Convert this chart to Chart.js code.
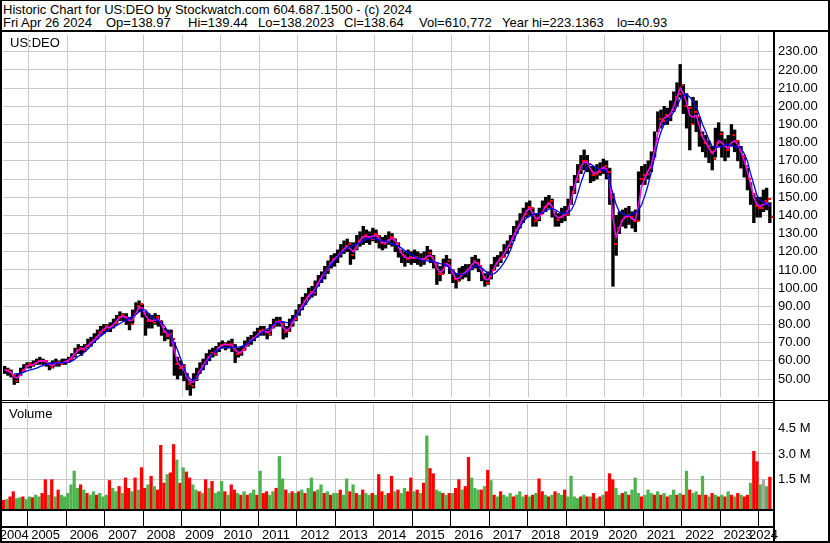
<!DOCTYPE html>
<html><head><meta charset="utf-8">
<script src="https://cdn.jsdelivr.net/npm/chart.js@4.4.1/dist/chart.umd.min.js"></script>
<style>
html,body{margin:0;padding:0;background:#fff;}
#wrap{position:relative;width:830px;height:543px;overflow:hidden;background:#fff;font-family:"Liberation Sans",Arial,sans-serif;color:#000;}
.ln{position:absolute;background:#000;}
.txt{position:absolute;font-size:13px;line-height:13px;white-space:pre;color:#000;}
.cv{position:absolute;left:0;}
</style></head><body>
<div id="wrap">
  <canvas id="price" class="cv" width="830" height="368" style="top:32px"></canvas>
  <canvas id="vol" class="cv" width="830" height="138" style="top:403px"></canvas>
  <div class="txt" style="left:3px;top:3px">Historic Chart for US:DEO by Stockwatch.com 604.687.1500 - (c) 2024</div>
  <div class="txt" style="left:3px;top:16px">Fri Apr 26 2024</div>
  <div class="txt" style="left:106px;top:16px">Op=138.97</div>
  <div class="txt" style="left:188px;top:16px">Hi=139.44</div>
  <div class="txt" style="left:258px;top:16px">Lo=138.2023</div>
  <div class="txt" style="left:344px;top:16px">Cl=138.64</div>
  <div class="txt" style="left:419px;top:16px">Vol=610,772</div>
  <div class="txt" style="left:502px;top:16px">Year hi=223.1363</div>
  <div class="txt" style="left:617px;top:16px">lo=40.93</div>
  <div class="txt" style="left:10px;top:36px">US:DEO</div>
  <div class="txt" style="left:9px;top:407px">Volume</div>
  <div class="ln" style="left:0;top:0;width:830px;height:1px"></div>
  <div class="ln" style="left:0;top:0;width:2px;height:543px"></div>
  <div class="ln" style="left:828px;top:0;width:2px;height:543px"></div>
  <div class="ln" style="left:0;top:541px;width:830px;height:2px"></div>
  <div class="ln" style="left:0;top:30px;width:830px;height:2px"></div>
  <div class="ln" style="left:773px;top:30px;width:2px;height:513px"></div>
  <div class="ln" style="left:0;top:400px;width:830px;height:1px"></div>
  <div class="ln" style="left:0;top:402px;width:775px;height:1px"></div>
  <div class="ln" style="left:0;top:509px;width:775px;height:2px"></div>
  <div class="ln" style="left:0;top:526px;width:775px;height:2px"></div>
</div>
<script>
// ---------- DATA (monthly, May 2004 .. Apr 2024) ----------
const firstYear = 2004, firstMonth = 5, monthCount = 240;

const lows = [
  53,52,51,47,48,52,54,56,
  56,57,58,58,58,57,55,56,57,57,58,58,
  59,60,62,64,63,65,67,68,70,72,74,75,
  76,76,78,80,82,82,80,77,81,86,87,84,
  74,78,78,80,79,74,71,72,68,52,50,52,
  49,44,41,45,49,53,55,58,60,62,63,65,
  67,66,67,65,59,62,63,66,68,69,71,73,
  74,74,72,74,78,79,79,72,73,76,79,82,
  85,88,91,94,95,96,101,103,105,108,111,112,
  114,117,119,120,113,116,121,123,124,125,124,126,
  125,122,121,122,124,123,120,117,114,112,114,113,
  114,113,112,113,116,114,111,102,104,108,112,108,
  103,100,104,105,106,104,110,111,109,104,101,102,
  105,110,112,114,117,119,122,126,130,133,136,139,
  140,134,134,137,141,142,144,139,134,134,136,137,
  140,146,152,158,163,165,164,158,159,160,162,163,
  160,146,101,118,130,134,133,135,133,131,137,157,
  157,160,164,172,186,188,190,190,192,197,200,205,
  196,188,176,190,186,178,175,172,169,165,172,178,
  172,170,172,178,175,170,166,161,154,146,136,139,
  139,142,143,136
];
const highs = [
  57,56,55,52,53,56,58,59,
  59,60,61,62,61,60,59,60,61,60,61,61,
  62,64,67,69,68,69,72,73,75,77,79,80,
  80,81,83,85,87,86,86,84,88,92,93,91,
  87,86,85,86,85,82,78,77,77,70,62,60,
  58,53,49,53,56,59,61,64,66,67,68,70,
  71,70,71,72,69,67,68,71,73,74,76,78,
  79,79,77,80,83,84,84,81,79,83,85,88,
  91,95,97,100,101,104,107,109,112,115,118,119,
  121,124,126,127,125,125,129,131,134,132,131,133,
  132,129,128,129,131,130,127,125,121,120,121,120,
  121,120,119,120,123,121,118,114,112,116,118,116,
  110,108,111,112,113,113,117,118,116,111,108,109,
  113,117,118,120,124,126,129,134,137,141,144,147,
  148,144,141,144,148,150,151,149,142,141,144,145,
  149,156,162,168,173,176,173,167,167,168,169,171,
  170,166,152,140,142,143,144,145,142,143,164,167,
  168,170,175,186,197,198,200,199,203,208,213,223,
  212,207,200,205,203,194,186,184,181,178,188,191,
  186,182,184,190,187,181,178,173,166,158,152,150,
  150,154,155,147
];
const closes = [
  55,54,52,49,52,55,57,58,
  57.5,59,60,60,60,58,56.5,59,59.5,58.5,59.5,60,
  61,63,66,67,66,68,70,71,73,76,77,79,
  78,79,81,84,85,84,83,80,86,90,91,86,
  82,82,81,84,82,76,73.5,74.5,72,58,56,57,
  52,47,46,50,54,57,59,62,64.5,64,67,68.5,
  69,68.5,69.5,67,64,64.5,66,69,71,72.5,73,76.5,
  77,76,74.5,79,81.5,82,80,76,76.5,81,83,87,
  89,93,95,98,97.5,102,105,107,110,113,116,117,
  119,121,123,124,118,122,126,128,129,128,127,130,
  128.5,125,124,126,128,127,124,120,117.5,116,117,116.5,
  117,116,115.5,116,119.5,117,113,108,108,113,115,110,
  105,104,108,108.5,110,111,115,114,112,106,103,106,
  110,114,116,117,121,123,127,132,134,138,141,144.5,
  144,137,138,141,144.5,146,148,142,137.5,139,140,141,
  146,153,160,165,170,170,168,162,163,164,166,167,
  164,150,124,133,137,139,140,139,137,137,160,162,
  163,166,171,182,193,192,195,194,198,205,207,212,
  200,199,190,197,194,184,180,178,175,171,180,185,
  178,176,178,184,181,176,172,167,160,152,145,144,
  144,148,149,139
];
const ma50 = [
  55,54.5,53.5,51,50.5,52.5,55,57,
  57.5,58,59,59.8,60,59.5,58,57.5,58.5,59,59,59.5,
  60.5,62,64,66,66.5,67,68.5,70,71.5,73.5,75.5,77.5,
  78.5,78.5,80,82,84,84.5,84,82,82.5,86,89.5,89,
  85,82.5,82,82.5,83,80,76,74.5,73.5,66,59,57,
  55,51,48,48.5,51,54.5,57.5,60,62.5,64,65.5,67.5,
  68.5,69,69,68.5,66,64.5,65,67,69.5,71.5,72.5,74.5,
  76,76.5,75.5,76.5,79,81.5,81.5,78.5,76.5,78,81,84.5,
  87.5,90.5,93.5,96,97.5,99.5,103,106,108.5,111,114,116,
  117.5,119.5,121.5,123,121.5,120,123,126.5,128,128.5,128,128.5,
  129,127,125,125,126.5,127.5,126,122.5,119,117,116.5,116.5,
  117,116.5,116,116,117.5,118,115.5,111,108.5,110,113.5,112.5,
  108,105,105.5,107.5,109,110.5,113,114.5,113,109.5,105,104.5,
  107.5,111.5,114.5,116.5,119,122,125,129,132.5,135.5,139,142.5,
  144,141,138,139,142,145,147,145,140,138.5,139.5,140.5,
  143,149,156,162,167,169.5,169,165.5,163,163.5,165,166.5,
  165.5,158,138,128,133,137.5,139.5,139.5,138,137.5,146,156,
  161,164.5,168,176,185,191,193.5,194.5,196,200,205,210,
  207,202,195,194,195,189,183,180,177,174,176,181,
  180,178,177,180,181,179,175,170,164,157,150,146,
  145,146,147,145
];
const ma200 = [
  null,null,null,53,52.7,53,53.8,54.5,
  55,55.5,56,56.8,57.3,58,58.5,58.7,58.8,58.9,59,59,
  59.2,60,61,62.5,63.5,65,66.5,68.5,70.5,72,73.5,75,
  76.5,77.5,78.5,79.5,80.5,81.5,82.5,83.5,84.5,85.5,87,88,
  88,86,84,83,82,81,79,76,73,70,66,61,
  56,52,50,49.3,50.5,53.5,56,59,61.5,64,65.5,66.5,
  67.3,67.3,67.3,67.5,67.5,67.5,68,68.5,69.5,71,72,73.5,
  75,76.5,77.5,78.5,80,81,81.5,81.5,81,81,82.5,85,
  87,89,91,93.5,96,99,101.5,104.5,108,111,113,115,
  117,119,120.5,122,123,123.5,124,125,126,127,127.5,127.5,
  127,126.5,126,125.8,125.3,124.5,123.8,123,122,120.5,119.5,118.5,
  117.5,116.5,115.5,115,115,114.8,114.5,114,113.5,113.2,112.5,111,
  109.5,108,107.5,107.5,108,109.5,111,112.2,112,111,109.5,108,
  107.7,108,109.5,111.5,114,117,121,126,130,133.5,136.5,138.5,
  139.5,140.5,141,141,141.5,142.5,143.5,143.8,143,142,141,141,
  141.5,143,146.5,152,158,163,167,168.3,167,166,165.5,165,
  164.6,158,152,146,142,141,140,140,141,141.5,143,146,
  151,157,164,172,180,186,190,192,194,197,200,204,
  206,206.5,205,203,200,195,190,186,181.5,178,177.5,177.5,
  178,178.5,179,178.5,178,177.5,177,174,170,163,157,151,
  148.5,147,146,145.5
];
// volume in millions of shares
const volume = [
  0.3,0.35,0.5,0.8,0.4,0.45,0.5,0.35,
  0.5,0.45,0.6,0.5,0.7,1.5,0.6,1.5,0.5,0.9,0.6,0.5,
  0.7,1.2,2.0,1.0,1.2,0.9,0.7,0.6,0.8,0.6,0.7,0.5,
  0.6,1.45,1.0,0.8,1.1,0.7,1.6,1.0,0.8,1.6,0.9,2.2,
  1.0,1.2,1.7,1.1,0.9,3.5,1.3,1.8,1.9,3.55,2.65,1.3,
  2.2,1.95,1.6,1.2,0.9,0.8,0.7,1.5,1.0,1.4,0.7,0.8,
  1.4,0.8,0.6,1.2,0.9,0.7,0.6,0.8,0.6,0.7,0.9,0.6,
  2.0,0.7,0.8,0.6,0.8,1.0,2.85,1.55,0.9,0.7,0.8,0.7,
  0.8,0.9,0.7,1.0,1.6,0.8,0.9,1.2,0.7,0.8,0.6,0.7,
  0.7,0.9,0.6,1.55,0.8,1.2,0.7,0.6,0.9,0.7,0.6,0.7,
  0.6,1.8,0.8,0.6,0.7,1.7,0.8,0.9,0.7,1.0,0.8,1.6,
  0.8,0.9,0.7,1.3,4.05,2.15,1.85,0.9,0.8,0.7,0.6,0.7,
  0.7,1.0,1.5,0.9,1.1,2.8,1.6,1.0,0.9,0.9,1.1,2.05,
  1.45,0.6,0.5,0.8,0.6,0.5,0.7,0.5,0.6,0.8,0.5,0.6,
  0.5,0.6,0.7,1.55,0.8,0.6,0.5,0.6,0.8,0.7,0.6,0.9,
  0.5,1.7,0.5,0.4,0.5,0.6,0.5,0.5,0.7,0.4,0.5,0.6,
  0.8,1.85,1.5,1.0,0.6,0.7,0.8,0.6,0.9,1.6,0.7,0.5,
  0.6,0.9,0.7,0.6,0.8,0.6,0.7,0.5,0.6,0.9,0.6,0.7,
  0.6,2.0,0.9,0.7,0.8,0.6,1.7,0.6,0.5,0.7,0.6,0.5,
  0.6,0.5,0.8,0.6,0.5,0.7,0.6,0.5,0.6,1.3,3.15,2.55,
  1.2,1.5,1.1,1.65
];
// volume bar direction: g = up, r = down, n = unchanged
const volDir = [
  "rgrrggrg",
  "grggrrgrgrgg","ggggrgrggrgg","grggrgrrgrgr","rgrgrrrgrrgr","grrggrgrgrgg",
  "grgrrgrgrggr","grrggrggrgrg","rgrggrggrgrg","grggrgrgrggr","grrgrrgrggrr",
  "grgrgrrggrgr","grrgrrgggrgr","grgrgggrgggr","grgrrgrgrggr","ggggrgrgrgrg",
  "rrrggrgrgggr","gggrgrgrggrg","rgrggrgrgrgr","grgrgrgrrgrr",
  "gngr"
].join("");

const years = [2004,2005,2006,2007,2008,2009,2010,2011,2012,2013,2014,2015,2016,2017,2018,2019,2020,2021,2022,2023,2024];
const priceTicks = [50,60,70,80,90,100,110,120,130,140,150,160,170,180,190,200,210,220,230];
const volumeTicks = [1.5,3.0,4.5];

// ---------- build ----------
const FONT = '"Liberation Sans", Arial, sans-serif';
Chart.defaults.font.family = FONT;
Chart.defaults.font.size = 13;
Chart.defaults.color = '#000';

const X_MIN = 2004.332, X_MAX = 2024.374;
const monthX = [];
for (let i = 0; i < monthCount; i++) {
  const m = firstMonth - 1 + i;
  monthX.push(firstYear + Math.floor(m / 12) + ((m % 12) + 0.5) / 12);
}
const GRID = '#c8c8c8';
const dirColor = {g: '#4cb44c', r: '#ff0000', n: '#a8a8a8'};

const tickImg = document.createElement('canvas');
tickImg.width = 8; tickImg.height = 2;
const tctx = tickImg.getContext('2d');
tctx.fillStyle = '#ff0000';
tctx.fillRect(5, 0, 3, 2);

const yearTicks = s => { s.ticks = years.map(v => ({value: v})); };

new Chart(document.getElementById('price'), {
  type: 'bar',
  data: {
    datasets: [
      {type: 'line', order: 0, data: monthX.map((x, i) => ({x, y: ma200[i]})),
       borderColor: '#0000ff', borderWidth: 1.3, pointRadius: 0, tension: 0, spanGaps: false, fill: false},
      {type: 'line', order: 1, data: monthX.map((x, i) => ({x, y: ma50[i]})),
       borderColor: '#ff00ff', borderWidth: 1.5, pointRadius: 0, tension: 0, fill: false},
      {type: 'line', order: 2, showLine: false, data: monthX.map((x, i) => ({x, y: closes[i]})),
       pointStyle: tickImg, pointRadius: 2, pointHoverRadius: 2},
      {type: 'bar', order: 3, data: monthX.map((x, i) => ({x, y: [lows[i], highs[i]]})),
       backgroundColor: '#000', borderWidth: 0, barThickness: 2.7}
    ]
  },
  options: {
    responsive: false, animation: false, devicePixelRatio: 1,
    layout: {padding: {left: 2, right: 0, top: 0, bottom: 0}},
    plugins: {legend: {display: false}, tooltip: {enabled: false}},
    scales: {
      x: {type: 'linear', min: X_MIN, max: X_MAX, offset: false,
          grid: {color: GRID, offset: false, drawTicks: false}, border: {display: false},
          ticks: {display: false}, afterBuildTicks: yearTicks,
          afterFit: s => { s.height = 0; s.paddingLeft = 0; s.paddingRight = 0; }},
      y: {type: 'linear', position: 'right', min: 40.1, max: 239.23,
          grid: {color: GRID, drawTicks: false}, border: {display: false},
          ticks: {padding: 5, color: '#000', font: {size: 13}, callback: v => Number(v).toFixed(2)},
          afterBuildTicks: s => { s.ticks = priceTicks.map(v => ({value: v})); },
          afterFit: s => { s.width = 57; s.paddingTop = 0; s.paddingBottom = 0; }}
    }
  }
});

const labelPos = years.map(y => y === 2004 ? X_MIN - 0.06 : (y === 2024 ? 2023.75 : y + 0.09));

new Chart(document.getElementById('vol'), {
  type: 'bar',
  data: {
    datasets: [
      {data: monthX.map((x, i) => ({x, y: volume[i]})), xAxisID: 'x', yAxisID: 'y',
       backgroundColor: monthX.map((x, i) => dirColor[volDir[i]]), borderWidth: 0,
       barThickness: 2.6, base: -0.21}
    ]
  },
  options: {
    responsive: false, animation: false, devicePixelRatio: 1,
    layout: {padding: {left: 2, right: 0, top: 1, bottom: 0}},
    plugins: {legend: {display: false}, tooltip: {enabled: false}},
    scales: {
      x: {type: 'linear', position: 'bottom', weight: 0, min: X_MIN, max: X_MAX, offset: false,
          grid: {color: GRID, offset: false, drawTicks: true, tickLength: 17, tickColor: '#000', tickWidth: 1},
          border: {display: false}, ticks: {display: false}, afterBuildTicks: yearTicks,
          afterFit: s => { s.height = 17; s.paddingLeft = 0; s.paddingRight = 0; }},
      xl: {type: 'linear', position: 'bottom', weight: 1, min: X_MIN, max: X_MAX, offset: false,
          grid: {display: false, drawTicks: false}, border: {display: false},
          ticks: {display: true, align: 'start', padding: 2, maxRotation: 0, minRotation: 0, autoSkip: false,
                  color: '#000', font: {size: 13}, callback: (v, i) => String(years[i])},
          afterBuildTicks: s => { s.ticks = labelPos.map(v => ({value: v})); },
          afterFit: s => { s.height = 15; s.paddingLeft = 0; s.paddingRight = 0; }},
      y: {type: 'linear', position: 'right', min: -0.21, max: 5.91,
          grid: {color: GRID, drawTicks: false}, border: {display: false},
          ticks: {padding: 5, color: '#000', font: {size: 13}, callback: v => Number(v).toFixed(1) + ' M'},
          afterBuildTicks: s => { s.ticks = volumeTicks.map(v => ({value: v})); },
          afterFit: s => { s.width = 57; s.paddingTop = 0; s.paddingBottom = 0; }}
    }
  }
});
</script>
</body></html>
